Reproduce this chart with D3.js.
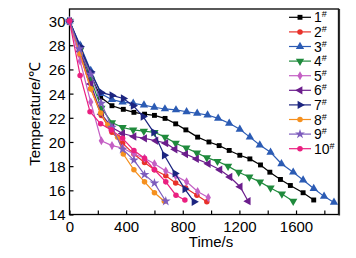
<!DOCTYPE html>
<html>
<head>
<meta charset="utf-8">
<script src="https://cdn.jsdelivr.net/npm/d3@7"></script>
<style>
  body { margin: 0; background: #fff; }
  svg text { font-family: "Liberation Sans", Arial, sans-serif; }
</style>
</head>
<body>
<div class="canvas"></div>
<script>
// series names and values: [time s, temperature C]
const seriesNames = ['1', '2', '3', '4', '5', '6', '7', '8', '9', '10'];
const seriesColors = ['#000000', '#e8312a', '#2b5bb4', '#1f8a3c', '#c45fc4',
  '#6b1d8c', '#1c2580', '#f5901e', '#7d5cbd', '#ea1f80'];
const seriesShapes = ['square', 'circle', 'up', 'down', 'diamond', 'left', 'right', 'circle', 'star', 'circle'];

const s1 = [[0,30],[70,28],[140,25.8],[220,23.7],[300,23.0],[380,22.7],[455,22.45],[530,22.3],
  [600,22.2],[675,21.95],[750,21.5],[822,21.0],[905,20.4],[985,20.0],[1057,19.7],[1128,19.3],
  [1203,18.9],[1274,18.6],[1349,18.1],[1415,17.5],[1490,16.9],[1560,16.4],[1650,15.8],[1725,15.2]];
const s2 = [[0,30],[75,27.2],[150,24.4],[225,22.2],[300,20.8],[375,19.9],[455,19.0],[530,18.3],
  [600,17.7],[680,17.2],[750,16.6],[820,16.2],[900,15.6],[970,15.05]];
const s3 = [[0,30],[75,28.0],[150,25.9],[220,24.0],[300,23.5],[375,23.3],[450,23.2],[526,23.05],
  [599,22.87],[674,22.73],[752,22.65],[827,22.5],[902,22.37],[975,22.23],[1050,21.95],[1128,21.55],
  [1203,21.05],[1274,20.4],[1344,19.75],[1420,19.15],[1497,18.2],[1580,17.5],[1650,16.85],
  [1725,16.15],[1798,15.5],[1868,15.0]];
const s4 = [[0,30],[75,27.6],[150,25.2],[225,22.8],[300,21.6],[375,21.2],[450,21.0],[525,20.9],
  [600,20.8],[675,20.4],[750,19.9],[825,19.5],[900,19.1],[970,18.7],[1045,18.4],[1120,18.0],
  [1195,17.5],[1270,17.1],[1345,16.7],[1420,16.2],[1500,15.7],[1580,15.1]];
const s5 = [[0,30],[75,26.7],[150,23.3],[225,20.1],[300,19.7],[375,19.5],[455,19.0],[530,18.65],
  [600,18.2],[680,17.6],[750,17.2],[827,16.7],[905,15.9],[980,15.4]];
const s6 = [[0,30],[75,27.5],[150,24.8],[225,22.3],[300,21.2],[375,20.7],[455,20.45],[530,20.3],
  [610,20.1],[680,19.9],[745,19.4],[820,19.0],[897,18.6],[980,18.2],[1062,17.7],[1133,17.1],
  [1205,16.3],[1262,15.1]];
const s7 = [[0,30],[75,27.9],[150,25.8],[222,24.1],[300,23.85],[380,23.6],[450,23.0],[520,22.1],
  [595,20.8],[670,18.9],[745,17.4],[815,16.1],[880,15.05]];
const s8 = [[0,30],[75,27.3],[150,24.4],[220,22.4],[270,21.4],[340,20.4],[380,19.0],[455,17.7],
  [530,16.7],[600,15.8],[670,15.1]];
const s9 = [[0,30],[70,27.7],[150,25.6],[225,23.2],[300,21.2],[375,19.4],[455,18.5],[530,17.3],
  [600,16.6],[680,15.1]];
const s10 = [[0,30],[75,25.5],[145,22.5],[220,21.5],[295,21.0],[375,20.3],[455,19.3],[530,18.65],
  [600,17.7],[680,16.7],[752,15.6],[815,15.2]];
const seriesValues = [s1, s2, s3, s4, s5, s6, s7, s8, s9, s10];

const xTicks = [0, 200, 400, 600, 800, 1000, 1200, 1400, 1600, 1800];
const xLabels = [0, 400, 800, 1200, 1600];
const yTicks = [14, 16, 18, 20, 22, 24, 26, 28, 30];

const width = 356, height = 258;
const margin = { top: 9, right: 17.5, bottom: 43.5, left: 69.5 };
const graphWidth = width - margin.left - margin.right;
const graphHeight = height - margin.top - margin.bottom;

const svg = d3.select('.canvas')
  .append('svg')
  .attr('width', width)
  .attr('height', height);

const graph = svg.append('g')
  .attr('transform', `translate(${margin.left}, ${margin.top})`);

// scales
const x = d3.scaleLinear().domain([0, 1900]).range([0, graphWidth]);
const y = d3.scaleLinear().domain([14, 31]).range([graphHeight, 0]);

// axes, ticks point inward
const xAxis = d3.axisBottom(x)
  .tickValues(xTicks)
  .tickSizeInner(-4).tickSizeOuter(0)
  .tickFormat(d => xLabels.includes(d) ? d : '');
const yAxis = d3.axisLeft(y)
  .tickValues(yTicks)
  .tickSizeInner(-4).tickSizeOuter(0)
  .tickFormat(d => d);

const xAxisGroup = graph.append('g')
  .attr('transform', `translate(0, ${graphHeight})`)
  .call(xAxis);
const yAxisGroup = graph.append('g').call(yAxis);

[xAxisGroup, yAxisGroup].forEach(g => {
  g.select('.domain').remove();
  g.selectAll('line').attr('stroke', '#000').attr('stroke-width', 1.2);
  g.selectAll('text').attr('fill', '#000').attr('font-size', 15);
});
xAxisGroup.selectAll('text').attr('y', 7).attr('dy', '0.71em');
yAxisGroup.selectAll('text').attr('x', -4).attr('dy', '0.36em');

// frame
graph.append('rect')
  .attr('width', graphWidth).attr('height', graphHeight)
  .attr('fill', 'none').attr('stroke', '#000').attr('stroke-width', 1.3);
graph.append('line')
  .attr('x1', graphWidth + 0.8).attr('x2', graphWidth + 0.8)
  .attr('y1', 0).attr('y2', graphHeight + 1)
  .attr('stroke', '#333').attr('stroke-width', 1.6);

// axis titles
svg.append('text')
  .attr('x', margin.left + x(1000)).attr('y', 247)
  .attr('text-anchor', 'middle').attr('font-size', 15)
  .text('Time/s');
svg.append('text')
  .attr('transform', `translate(40, ${margin.top + y(22.3)}) rotate(-90)`)
  .attr('text-anchor', 'middle').attr('font-size', 15)
  .text('Temperature/℃');

// marker builder
const markerPath = (shape) => {
  switch (shape) {
    case 'square': return { d: d3.symbol(d3.symbolSquare, 24)(), rot: 0 };
    case 'circle': return { d: d3.symbol(d3.symbolCircle, 24)(), rot: 0 };
    case 'up': return { d: d3.symbol(d3.symbolTriangle, 30)(), rot: 0 };
    case 'down': return { d: d3.symbol(d3.symbolTriangle, 30)(), rot: 180 };
    case 'left': return { d: d3.symbol(d3.symbolTriangle, 30)(), rot: -90 };
    case 'right': return { d: d3.symbol(d3.symbolTriangle, 30)(), rot: 90 };
    case 'diamond': return { d: d3.symbol(d3.symbolDiamond, 24)(), rot: 0 };
    case 'star': return { d: d3.symbol(d3.symbolStar, 30)(), rot: 0 };
  }
};

const line = d3.line().x(d => x(d[0])).y(d => y(d[1]));

const plot = graph.append('g');
seriesValues.forEach((vals, i) => {
  const g = plot.append('g');
  g.append('path')
    .attr('d', line(vals))
    .attr('fill', 'none')
    .attr('stroke', seriesColors[i])
    .attr('stroke-width', 1.2);
  const m = markerPath(seriesShapes[i]);
  g.selectAll('path.mk').data(vals).enter()
    .append('path')
    .attr('class', 'mk')
    .attr('d', m.d)
    .attr('fill', seriesColors[i])
    .attr('transform', d => `translate(${x(d[0])}, ${y(d[1])}) rotate(${m.rot})`);
});

// legend
const legend = svg.append('g');
seriesNames.forEach((name, i) => {
  const ly = 17.3 + i * 14.6;
  const row = legend.append('g').attr('transform', `translate(289, ${ly})`);
  row.append('line')
    .attr('x1', 0).attr('x2', 22)
    .attr('stroke', seriesColors[i]).attr('stroke-width', 1.2);
  const m = markerPath(seriesShapes[i]);
  row.append('path')
    .attr('d', m.d)
    .attr('fill', seriesColors[i])
    .attr('transform', `translate(11, 0) rotate(${m.rot})`);
  const t = row.append('text')
    .attr('x', 25).attr('y', 5)
    .attr('font-size', 14);
  t.append('tspan').text(name);
  t.append('tspan').attr('font-size', 9).attr('dy', -5).text('#');
});
</script>
</body>
</html>
